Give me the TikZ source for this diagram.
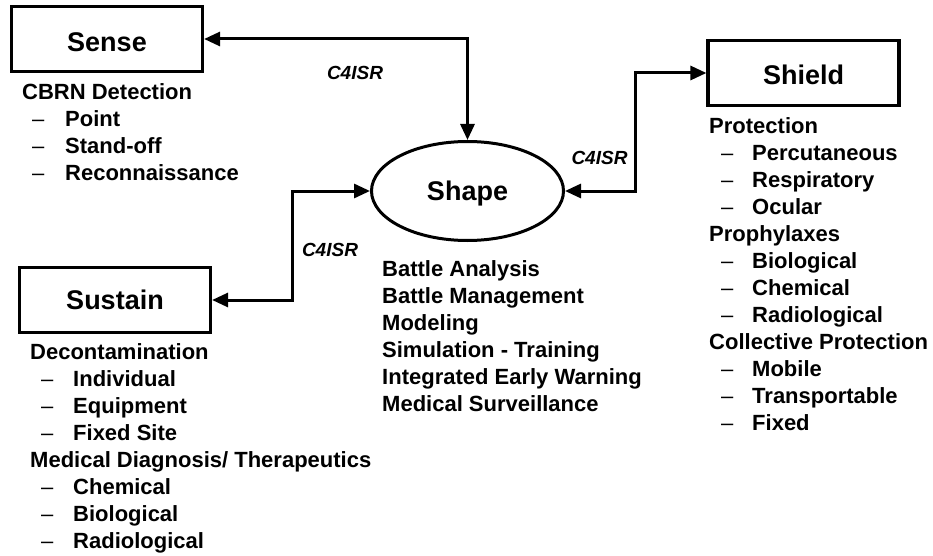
\documentclass[tikz,border=0pt]{standalone}
\usepackage{fontspec}
\setmainfont{Liberation Sans}
\usetikzlibrary{arrows.meta,shapes.geometric}
\begin{document}
\begin{tikzpicture}[x=1pt,y=-1pt,
  box/.style={draw,line width=3.2pt,minimum width=191pt,minimum height=65pt,inner sep=0pt,
    font=\fontsize{27}{27}\selectfont\bfseries,text height=19.4pt,text depth=0pt},
  oval/.style={ellipse,draw,line width=3pt,minimum width=192pt,minimum height=99pt,inner sep=0pt,
    font=\fontsize{27}{27}\selectfont\bfseries,text height=19.4pt,text depth=0pt},
  conn/.style={line width=3pt,{Triangle[length=16pt,width=14pt]}-{Triangle[length=16pt,width=14pt]}},
  lbl/.style={inner sep=0pt,font=\fontsize{19}{19}\selectfont\bfseries\itshape,text height=13.7pt,text depth=0pt},
  listitem/.style={anchor=west,inner sep=0pt,font=\fontsize{22}{22}\selectfont\bfseries,text height=15.8pt,text depth=0pt},
  dashmark/.style={anchor=west,inner sep=0pt,font=\fontsize{22}{22}\selectfont,text height=15.8pt,text depth=0pt}]
\useasboundingbox (0,0) rectangle (933,556);

% main nodes
\node[box,text height=25.4pt] (sense) at (107,39) {Sense};
\node[box] (sustain) at (115,300) {Sustain};
\node[box,text height=23.4pt] (shield) at (803.5,73) {Shield};
\node[oval] (shape) at (467.5,191) {Shape};

% connectors
\draw[conn] (sense.east) -| (shape.north);
\draw[conn] (shape.east) -- ++(70,0) |- (shield.west);
\draw[conn] (sustain.east) -- ++(80,0) |- (shape.west);

% labels
\node[lbl] (l1) at (355,73) {C4ISR};
\node[lbl] (l2) at (599.5,158) {C4ISR};
\node[lbl] (l3) at (330,250) {C4ISR};

% Sense list
\node[listitem] (se0) at (22,92) {CBRN Detection};
\foreach \t [count=\i] in {Point,Stand-off,Reconnaissance} {
  \node[dashmark] (sed\i) at (32,{92+27*\i}) {\textendash};
  \node[listitem] (se\i) at (65,{92+27*\i}) {\t};
}

% Sustain list
\node[listitem] (su0) at (30,352) {Decontamination};
\foreach \t [count=\i] in {Individual,Equipment,Fixed Site} {
  \node[dashmark] (sud\i) at (41,{352+27*\i}) {\textendash};
  \node[listitem] (su\i) at (73,{352+27*\i}) {\t};
}
\node[listitem] (su4) at (30,460) {Medical Diagnosis/ Therapeutics};
\foreach \t [count=\i from 5] in {Chemical,Biological,Radiological} {
  \node[dashmark] (sud\i) at (41,{352+27*\i}) {\textendash};
  \node[listitem] (su\i) at (73,{352+27*\i}) {\t};
}

% Shape list
\foreach \t [count=\i from 0] in {Battle Analysis,Battle Management,Modeling,Simulation - Training,Integrated Early Warning,Medical Surveillance} {
  \node[listitem] (sh\i) at (382,{269+27*\i}) {\t};
}

% Shield list
\node[listitem] (sd0) at (709,126) {Protection};
\foreach \t [count=\i] in {Percutaneous,Respiratory,Ocular} {
  \node[dashmark] (sdd\i) at (721,{126+27*\i}) {\textendash};
  \node[listitem] (sd\i) at (752,{126+27*\i}) {\t};
}
\node[listitem] (sd4) at (709,234) {Prophylaxes};
\foreach \t [count=\i from 5] in {Biological,Chemical,Radiological} {
  \node[dashmark] (sdd\i) at (721,{126+27*\i}) {\textendash};
  \node[listitem] (sd\i) at (752,{126+27*\i}) {\t};
}
\node[listitem] (sd8) at (709,342) {Collective Protection};
\foreach \t [count=\i from 9] in {Mobile,Transportable,Fixed} {
  \node[dashmark] (sdd\i) at (721,{126+27*\i}) {\textendash};
  \node[listitem] (sd\i) at (752,{126+27*\i}) {\t};
}
\end{tikzpicture}
\end{document}
